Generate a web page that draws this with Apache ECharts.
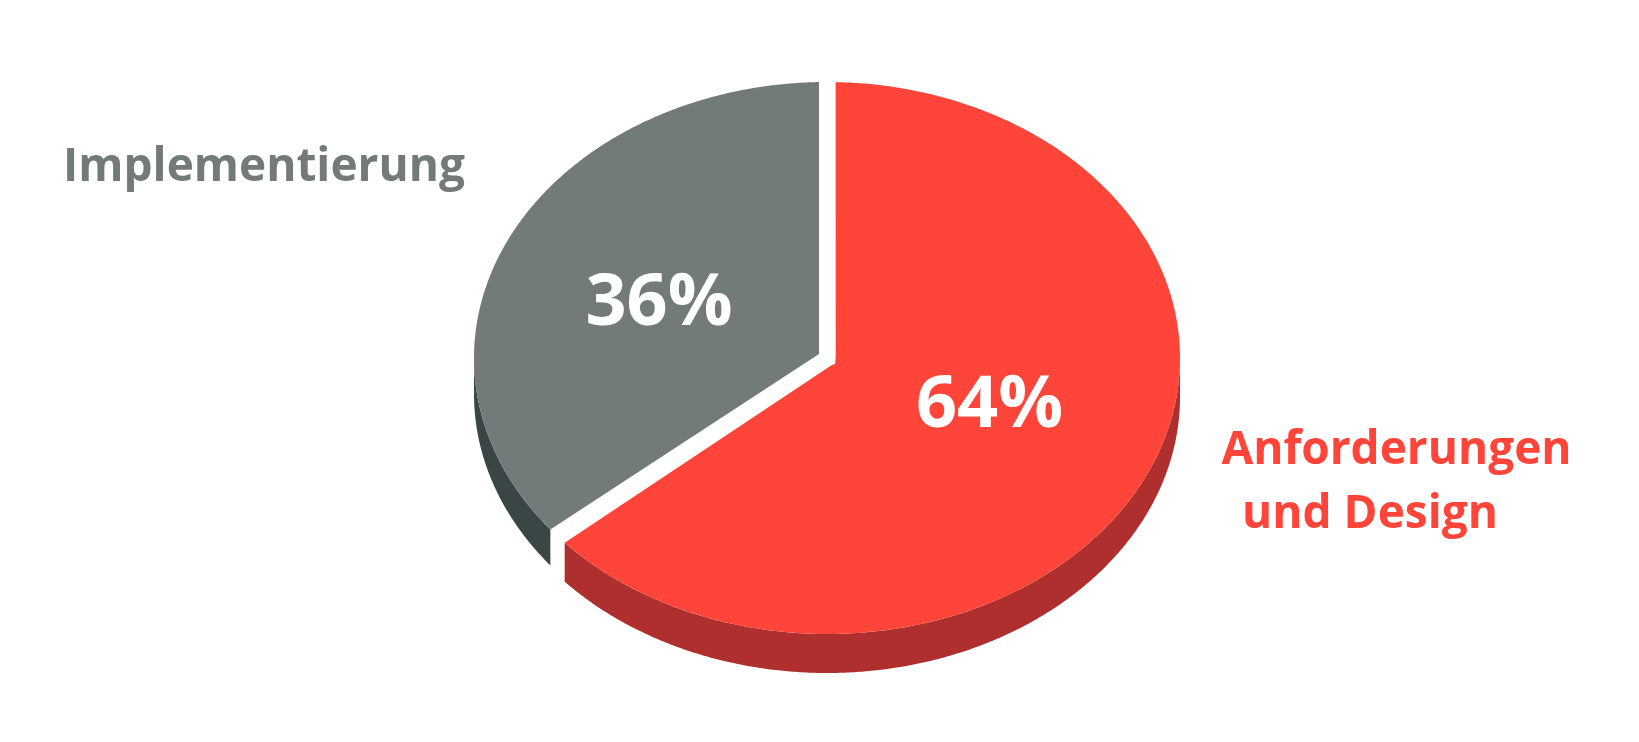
<!DOCTYPE html>
<html><head><meta charset="utf-8">
<style>html,body{margin:0;padding:0;background:#fff}#c{width:1639px;height:742px}</style>
<script src="https://cdn.jsdelivr.net/npm/echarts@6/dist/echarts.min.js"></script>
</head><body><div id="c"></div>
<script>
const categories = [['Anforderungen','und Design'],['Implementierung']];
const seriesValues = [64,36];
const percentLabels = ['64%','36%'];

const topColors = ['#FF4539','#727B7A'];
const sideColors = ['#AE2F2D','#3A4646'];
const labelColors = ['#FF4539','#727B7A'];
const FONT = '"Open Sans"';
const padStart = [1.4,1.2], padEnd = [2.4,1.3];
const apexOffset = [[8.7,4.5],[-8,-4]];
const depth = [39,36];
const pctPos = [[989.5,406],[659,304]];
const nameLayout = [[[1396.5,451],[1370,515]],[[264,168]]];
const chart = echarts.init(document.getElementById('c'),null,{renderer:'canvas'});

function arc(api,a,b){
  const n = Math.max(2,Math.ceil(Math.abs(b-a)/0.4)), pts=[];
  for(let i=0;i<=n;i++){
    const t=(a+(b-a)*i/n)*Math.PI/180;
    pts.push(api.coord([Math.sin(t),Math.cos(t)]));
  }
  return pts;
}
function renderItem(params,api){
  const i=params.dataIndex, total=seriesValues.reduce((s,v)=>s+v,0);
  let before=0; for(let k=0;k<i;k++) before+=seriesValues[k];
  const t0=before/total*360+padStart[i], t1=(before+api.value(1))/total*360-padEnd[i];
  const c=api.coord([0,0]);
  const apex=[c[0]+apexOffset[i][0],c[1]+apexOffset[i][1]];
  const children=[];
  const s0=Math.max(t0,90), s1=Math.min(t1,270);
  if(s1>s0){
    const rim=arc(api,s0,s1);
    const low=rim.slice().reverse().map(p=>[p[0],p[1]+depth[i]]);
    children.push({type:'polygon',shape:{points:rim.concat(low)},style:{fill:sideColors[i]}});
  }
  const rim=arc(api,t0,t1);
  let pts;
  if(i===0){
    const e=rim[rim.length-1], dx=e[0]-apex[0], dy=e[1]-apex[1], L=Math.hypot(dx,dy), r=6;
    pts=rim.concat([[apex[0]+dx/L*r,apex[1]+dy/L*r],[apex[0]-0.6,apex[1]+1.2],[apex[0],apex[1]-r]]);
  } else pts=rim.concat([apex]);
  children.push({type:'polygon',shape:{points:pts},style:{fill:topColors[i]}});
  children.push({type:'text',style:{text:percentLabels[i],x:pctPos[i][0],y:pctPos[i][1],align:'center',verticalAlign:'middle',
    font:'700 72px '+FONT,fill:'#fff'},z2:10});
  categories[i].forEach((line,k)=>{
    children.push({type:'text',style:{text:line,x:nameLayout[i][k][0],y:nameLayout[i][k][1],align:'center',verticalAlign:'middle',
      font:'700 46px '+FONT,fill:labelColors[i]},z2:10});
  });
  return {type:'group',children};
}
chart.setOption({
  animation:false,
  backgroundColor:'#fff',
  grid:{left:474,top:82,width:706,height:552,containLabel:false},
  xAxis:{type:'value',min:-1,max:1,show:false},
  yAxis:{type:'value',min:-1,max:1,show:false},
  series:[{type:'custom',clip:false,coordinateSystem:'cartesian2d',renderItem,
    encode:{x:0,y:2},
    data:seriesValues.map((v,i)=>[0,v,0])}]
});
</script></body></html>
